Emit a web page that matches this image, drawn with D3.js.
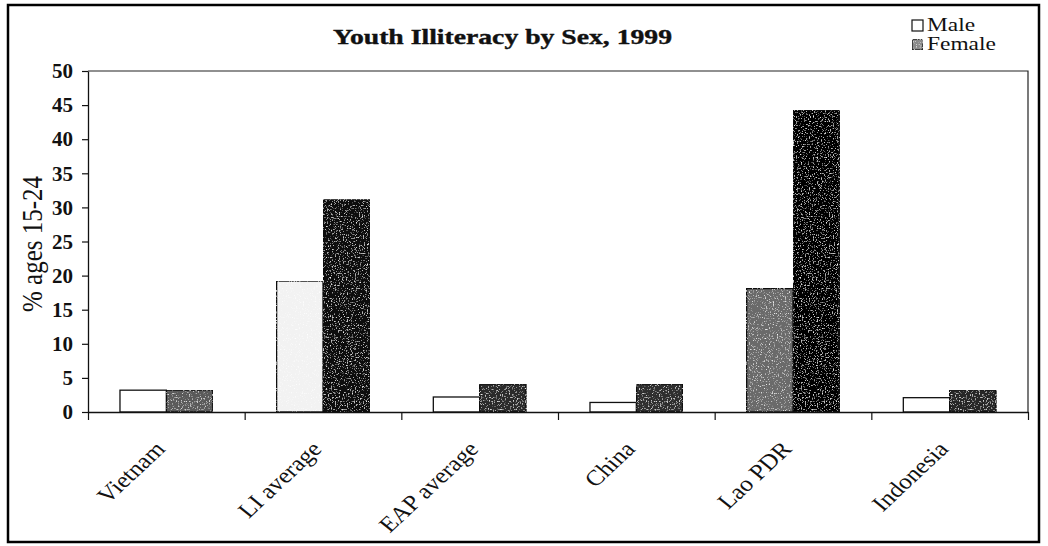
<!DOCTYPE html>
<html>
<head>
<meta charset="utf-8">
<script src="https://cdn.jsdelivr.net/npm/d3@7"></script>
<style>
  html, body { margin: 0; padding: 0; background: #fff; }
  svg text { font-family: "Times New Roman", "Liberation Serif", Times, serif !important; fill: #111; }
</style>
</head>
<body>
<div id="chart"></div>
<script>
// values
const categories = ['Vietnam', 'LI average', 'EAP average', 'China', 'Lao PDR', 'Indonesia'];
const seriesNames = ['Male', 'Female'];
const maleValues = [3.2, 19.2, 2.2, 1.4, 18.1, 2.1];
const femaleValues = [3.2, 31.1, 4.1, 4.1, 44.2, 3.2];
const yTicks = [0, 5, 10, 15, 20, 25, 30, 35, 40, 45, 50];

// shading of the stippled bars (scan look)
const maleShade = ['#ffffff', '#f2f2f2', '#ffffff', '#ffffff', '#6a6a6a', '#ffffff'];
const femaleShade = ['#5a5a5a', '#0a0a0a', '#2a2a2a', '#2e2e2e', '#040404', '#262626'];

const width = 1048, height = 546;
const SX = 1.22; // the scan is stretched sideways
const plot = {left: 88, right: 1028, top: 71, bottom: 412};

const svg = d3.select('#chart')
    .append('svg')
    .attr('width', width)
    .attr('height', height);

/* grain filter for the stippled bars */
const defs = svg.append('defs');
const grain = defs.append('filter').attr('id', 'grain')
    .attr('x', 0).attr('y', 0).attr('width', 1).attr('height', 1);
grain.append('feTurbulence')
    .attr('type', 'fractalNoise')
    .attr('baseFrequency', 0.75)
    .attr('numOctaves', 2)
    .attr('seed', 4)
    .attr('result', 'n');
grain.append('feColorMatrix')
    .attr('in', 'n')
    .attr('type', 'matrix')
    .attr('values', '0 0 0 0 1  0 0 0 0 1  0 0 0 0 1  0 0 0 -3.2 1.35')
    .attr('result', 'w');
grain.append('feComposite')
    .attr('in', 'w').attr('in2', 'SourceGraphic')
    .attr('operator', 'in').attr('result', 'ws');
const merge = grain.append('feMerge');
merge.append('feMergeNode').attr('in', 'SourceGraphic');
merge.append('feMergeNode').attr('in', 'ws');

/* outer frame */
svg.append('rect')
    .attr('x', 8).attr('y', 5)
    .attr('width', 1031).attr('height', 537)
    .attr('fill', 'none')
    .attr('stroke', '#000')
    .attr('stroke-width', 2.5);

/* scales */
const yScale = d3.scaleLinear()
    .domain([0, 50])
    .range([plot.bottom, plot.top]);

const x0 = d3.scaleBand()
    .domain(categories)
    .range([plot.left, plot.right])
    .padding(0);

const x1 = d3.scaleBand()
    .domain(seriesNames)
    .range([0, x0.bandwidth()])
    .paddingInner(0)
    .paddingOuter(0.69);

const xIdx = d3.scaleLinear()
    .domain([0, categories.length])
    .range([plot.left, plot.right]);

/* plot box: top and right edges */
svg.append('path')
    .attr('d', `M${plot.left},${plot.top}H${plot.right}V${plot.bottom}`)
    .attr('fill', 'none')
    .attr('stroke', '#222')
    .attr('stroke-width', 1.2);

/* bars */
const rows = categories.map((c, i) => ({
    cat: c,
    vals: [
        {s: 'Male', v: maleValues[i], fill: maleShade[i]},
        {s: 'Female', v: femaleValues[i], fill: femaleShade[i]}
    ]
}));

svg.append('g')
    .selectAll('g')
    .data(rows)
    .join('g')
    .attr('transform', d => `translate(${x0(d.cat)},0)`)
    .selectAll('rect')
    .data(d => d.vals)
    .join('rect')
    .attr('x', d => x1(d.s))
    .attr('y', d => yScale(d.v))
    .attr('width', x1.bandwidth())
    .attr('height', d => yScale(0) - yScale(d.v))
    .attr('fill', d => d.fill)
    .attr('stroke', '#111')
    .attr('stroke-width', 1.3)
    .attr('filter', d => d.fill === '#ffffff' ? null : 'url(#grain)');

/* y axis */
const yAxis = svg.append('g')
    .attr('transform', `translate(${plot.left},0)`)
    .call(d3.axisLeft(yScale).tickValues(yTicks).tickSize(6).tickSizeOuter(0).tickPadding(9));
yAxis.attr('font-family', null).attr('font-size', null);
yAxis.select('.domain').attr('stroke', '#111').attr('stroke-width', 1.3);
yAxis.selectAll('line').attr('stroke', '#111').attr('stroke-width', 1.2);
yAxis.selectAll('text')
    .style('font-size', '21px')
    .style('font-weight', 'bold')
    .attr('fill', '#111');

/* x axis: ticks between categories */
const xAxis = svg.append('g')
    .attr('transform', `translate(0,${plot.bottom})`)
    .call(d3.axisBottom(xIdx).tickValues(d3.range(categories.length + 1)).tickFormat('').tickSize(8).tickSizeOuter(0));
xAxis.select('.domain').attr('stroke', '#111').attr('stroke-width', 1.3);
xAxis.selectAll('line').attr('stroke', '#111').attr('stroke-width', 1.2);

/* category labels, slanted */
svg.append('g')
    .selectAll('text')
    .data(categories)
    .join('text')
    .attr('transform', d => `translate(${x0(d) + x0.bandwidth() / 2},450) scale(1.15,1) rotate(-47)`)
    .attr('text-anchor', 'end')
    .style('font-size', '22px')
    .text(d => d);

/* y label */
svg.append('text')
    .attr('transform', `translate(42,244) scale(${SX},1) rotate(-90)`)
    .attr('text-anchor', 'middle')
    .style('font-size', '25px')
    .text('% ages 15-24');

/* title */
svg.append('text')
    .attr('x', 333)
    .attr('y', 44)
    .attr('textLength', 339)
    .attr('lengthAdjust', 'spacingAndGlyphs')
    .style('font-size', '22px')
    .style('font-weight', 'bold')
    .style('stroke', '#111')
    .style('stroke-width', 0.4)
    .text('Youth Illiteracy by Sex, 1999');

/* legend */
const legend = svg.append('g')
    .selectAll('g')
    .data(seriesNames)
    .join('g')
    .attr('transform', (d, i) => `translate(912,${20 + i * 19})`);

legend.append('rect')
    .attr('width', 11)
    .attr('height', 11)
    .attr('fill', d => d === 'Male' ? '#fff' : '#8a8a8a')
    .attr('stroke', '#111')
    .attr('stroke-width', 1.2)
    .attr('filter', d => d === 'Male' ? null : 'url(#grain)');

legend.append('text')
    .attr('transform', `translate(15,11) scale(1.3,1)`)
    .style('font-size', '18px')
    .text(d => d);
</script>
</body>
</html>
